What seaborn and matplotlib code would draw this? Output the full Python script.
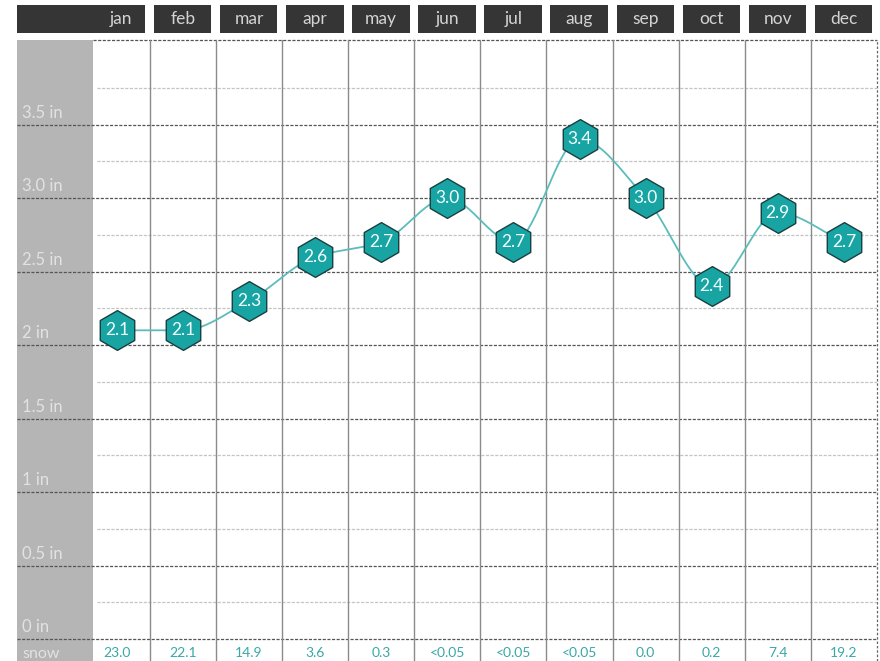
import numpy as np
import pandas as pd
import matplotlib
matplotlib.use("Agg")
import matplotlib.pyplot as plt
import matplotlib.transforms as mtransforms
from matplotlib.patches import Rectangle
import seaborn as sns

# Monthly precipitation (inches) and snowfall
months = ["jan", "feb", "mar", "apr", "may", "jun", "jul", "aug", "sep", "oct", "nov", "dec"]
precip = [2.1, 2.1, 2.3, 2.6, 2.7, 3.0, 2.7, 3.4, 3.0, 2.4, 2.9, 2.7]
snow = ["23.0", "22.1", "14.9", "3.6", "0.3", "<0.05", "<0.05", "<0.05", "0.0", "0.2", "7.4", "19.2"]
y_ticks = [0, 0.5, 1, 1.5, 2, 2.5, 3.0, 3.5]
y_tick_labels = ["0 in", "0.5 in", "1 in", "1.5 in", "2 in", "2.5 in", "3.0 in", "3.5 in"]

sns.set_theme(style="white")
plt.rcParams["font.family"] = ["Lato", "DejaVu Sans"]

TEAL = "#19a4a4"
TEAL_TEXT = "#3aa7a7"
DARK = "#353535"
GREY_COL = "#b5b5b5"
LABEL_GREY = "#e2e2e2"

W, H = 880, 661
fig = plt.figure(figsize=(W / 100, H / 100), dpi=100)
fig.patch.set_facecolor("white")


def fx(px):
    return px / W


def fy(py):
    return 1 - py / H


ax_left, ax_right, ax_top, ax_bottom = 93, 877, 40, 643
ax = fig.add_axes([fx(ax_left), fy(ax_bottom), fx(ax_right) - fx(ax_left), fy(ax_top) - fy(ax_bottom)])
ax.set_facecolor("white")

x_lo, x_hi = -0.36, 11.5
y_lo, y_hi = -0.027, 4.075
ax.set_xlim(x_lo, x_hi)
ax.set_ylim(y_lo, y_hi)
for s in ax.spines.values():
    s.set_visible(False)
ax.set_xticks([])
ax.set_yticks([])


def data_x(px):
    return x_lo + (px - ax_left) / (ax_right - ax_left) * (x_hi - x_lo)


# grey label column on the left
fig.patches.append(Rectangle((fx(17), 0), fx(93) - fx(17), fy(40), transform=fig.transFigure,
                             facecolor=GREY_COL, edgecolor="none", zorder=-1))

ax_w = ax_right - ax_left
ax_h = ax_bottom - ax_top
# minor grid
for v in np.arange(0.25, 4.0, 0.5):
    ax.axhline(v, xmin=4 / ax_w, xmax=1, color="#c4c4c4", lw=0.9, ls=(0, (2.5, 1.2)), zorder=1)
# major grid, running into the label column
for v in y_ticks:
    ax.axhline(v, xmin=(17 - ax_left) / ax_w, xmax=1, color="#555555", lw=0.9,
               ls=(0, (2.5, 1.2)), clip_on=False, zorder=2)
ax.axhline(y_hi, xmin=0, xmax=1, color="#555555", lw=0.9, ls=(0, (2.5, 1.2)), clip_on=False, zorder=2)
# month separators, continuing through the snow row
for i in range(11):
    ax.axvline(i + 0.5, ymin=-(H - ax_bottom) / ax_h, ymax=1, color="#8a8a8a", lw=1.0,
               clip_on=False, zorder=2)
ax.axvline(x_hi, ymin=-(H - ax_bottom) / ax_h, ymax=1, color="#666666", lw=0.9,
           ls=(0, (2, 1.5)), clip_on=False, zorder=2)

# y tick labels inside the grey column
ylab_tr = mtransforms.blended_transform_factory(fig.transFigure, ax.transData)
for v, lab in zip(y_ticks, y_tick_labels):
    ax.text(fx(22), v + 0.025, lab, transform=ylab_tr, ha="left", va="bottom",
            fontsize=12, color=LABEL_GREY, clip_on=False)

# month header boxes
hdr_tr = mtransforms.blended_transform_factory(ax.transData, fig.transFigure)
for i, m in enumerate(months):
    x0 = data_x(17) if i == 0 else i - 0.5 + 0.06
    x1 = i + 0.5 - 0.07
    ax.add_patch(Rectangle((x0, fy(33)), x1 - x0, fy(5) - fy(33), transform=hdr_tr,
                           facecolor=DARK, edgecolor="none", clip_on=False))
    ax.text(i + 0.07 if i == 0 else i, fy(19), m, transform=hdr_tr, ha="center", va="center",
            fontsize=12.5, color="#d4d4d4", clip_on=False)

# snow row
for i, s in enumerate(snow):
    ax.text(i, fy(653), s, transform=hdr_tr, ha="center", va="center",
            fontsize=10, color=TEAL_TEXT, clip_on=False)
ax.text(fx(22), fy(654), "snow", transform=fig.transFigure, ha="left", va="center",
        fontsize=11.5, color=LABEL_GREY)


# monotone cubic curve through the monthly values
def monotone_curve(xs, ys, n=40):
    xs = np.asarray(xs, float)
    ys = np.asarray(ys, float)
    h = np.diff(xs)
    d = np.diff(ys) / h
    m = np.zeros_like(ys)
    m[0], m[-1] = d[0], d[-1]
    for k in range(1, len(ys) - 1):
        if d[k - 1] * d[k] <= 0:
            m[k] = 0.0
        else:
            w1 = 2 * h[k] + h[k - 1]
            w2 = h[k] + 2 * h[k - 1]
            m[k] = (w1 + w2) / (w1 / d[k - 1] + w2 / d[k])
    px, py = [], []
    for k in range(len(xs) - 1):
        t = np.linspace(0, 1, n, endpoint=(k == len(xs) - 2))
        h00 = 2 * t**3 - 3 * t**2 + 1
        h10 = t**3 - 2 * t**2 + t
        h01 = -2 * t**3 + 3 * t**2
        h11 = t**3 - t**2
        px.append(xs[k] + t * h[k])
        py.append(h00 * ys[k] + h10 * h[k] * m[k] + h01 * ys[k + 1] + h11 * h[k] * m[k + 1])
    return np.concatenate(px), np.concatenate(py)


df = pd.DataFrame({"month": months, "x": np.arange(len(months)), "precip": precip})
cx, cy = monotone_curve(df["x"], df["precip"])
curve = pd.DataFrame({"x": cx, "y": cy})

sns.lineplot(data=curve, x="x", y="y", ax=ax, color="#5cbcbc", lw=1.3, sort=False, zorder=4)
sns.scatterplot(data=df, x="x", y="precip", ax=ax, marker="h", s=820, color=TEAL,
                edgecolor="#1a3f3f", linewidth=1.0, zorder=5, legend=False)
for _, r in df.iterrows():
    ax.text(r["x"], r["precip"], f"{r['precip']:.1f}", ha="center", va="center",
            fontsize=12.5, color="#f2ffff", zorder=6)

ax.set_xlabel("")
ax.set_ylabel("")
ax.set_xlim(x_lo, x_hi)
ax.set_ylim(y_lo, y_hi)

fig.savefig("out.png", dpi=100)
